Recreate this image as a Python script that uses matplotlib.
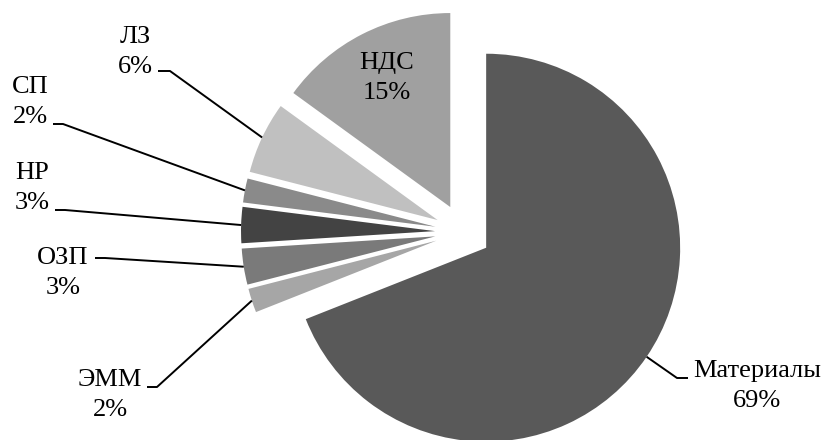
import matplotlib.pyplot as plt
import numpy as np

# data
categories = ['Материалы', 'ЭММ', 'ОЗП', 'НР', 'СП', 'ЛЗ', 'НДС']
shares = [69, 2, 3, 3, 2, 6, 15]
colors = ['#595959', '#a6a6a6', '#7a7a7a', '#434343', '#8a8a8a', '#c0c0c0', '#a0a0a0']

# label layout in pixel coords (x, y from top): text centre, elbow, end of leader
label_pos = {
    'Материалы': ((757, 386), (677, 378), (688, 378)),
    'ЭММ': ((110, 395), (157, 387), (147, 387)),
    'ОЗП': ((63, 273), (105, 258), (95, 258)),
    'НР': ((32, 188), (65, 210), (55, 210)),
    'СП': ((30, 102), (63, 124), (53, 124)),
    'ЛЗ': ((135, 52), (170, 71), (158, 71)),
    'НДС': ((387, 78), None, None),
}

W, H = 824, 440
plt.rcParams['font.family'] = ['Liberation Serif', 'DejaVu Serif']

fig = plt.figure(figsize=(W / 100, H / 100), dpi=100)
ax = fig.add_axes([0, 0, 1, 1])

center = (463, H - 232)
radius = 194
expl = 28  # absolute offset in data (pixel) units

wedges, _ = ax.pie(shares, colors=colors, startangle=90, counterclock=False,
                   center=center, radius=radius, explode=[expl] * len(shares),
                   wedgeprops=dict(linewidth=0))

for w, name, val in zip(wedges, categories, shares):
    (tx, ty), elbow, end = label_pos[name]
    ax.text(tx, H - ty, f'{name}\n{val}%', ha='center', va='center',
            fontsize=19, linespacing=1.45, color='black')
    if elbow is None:
        continue
    mid = np.deg2rad((w.theta1 + w.theta2) / 2)
    cx, cy = w.center
    px = cx + w.r * np.cos(mid)
    py = cy + w.r * np.sin(mid)
    ax.plot([px, elbow[0], end[0]], [py, H - elbow[1], H - end[1]],
            color='black', lw=1.4, solid_capstyle='butt')

ax.set_xlim(0, W)
ax.set_ylim(0, H)
ax.set_aspect('equal')
ax.axis('off')

plt.savefig('out.png', dpi=100)
plt.close()
